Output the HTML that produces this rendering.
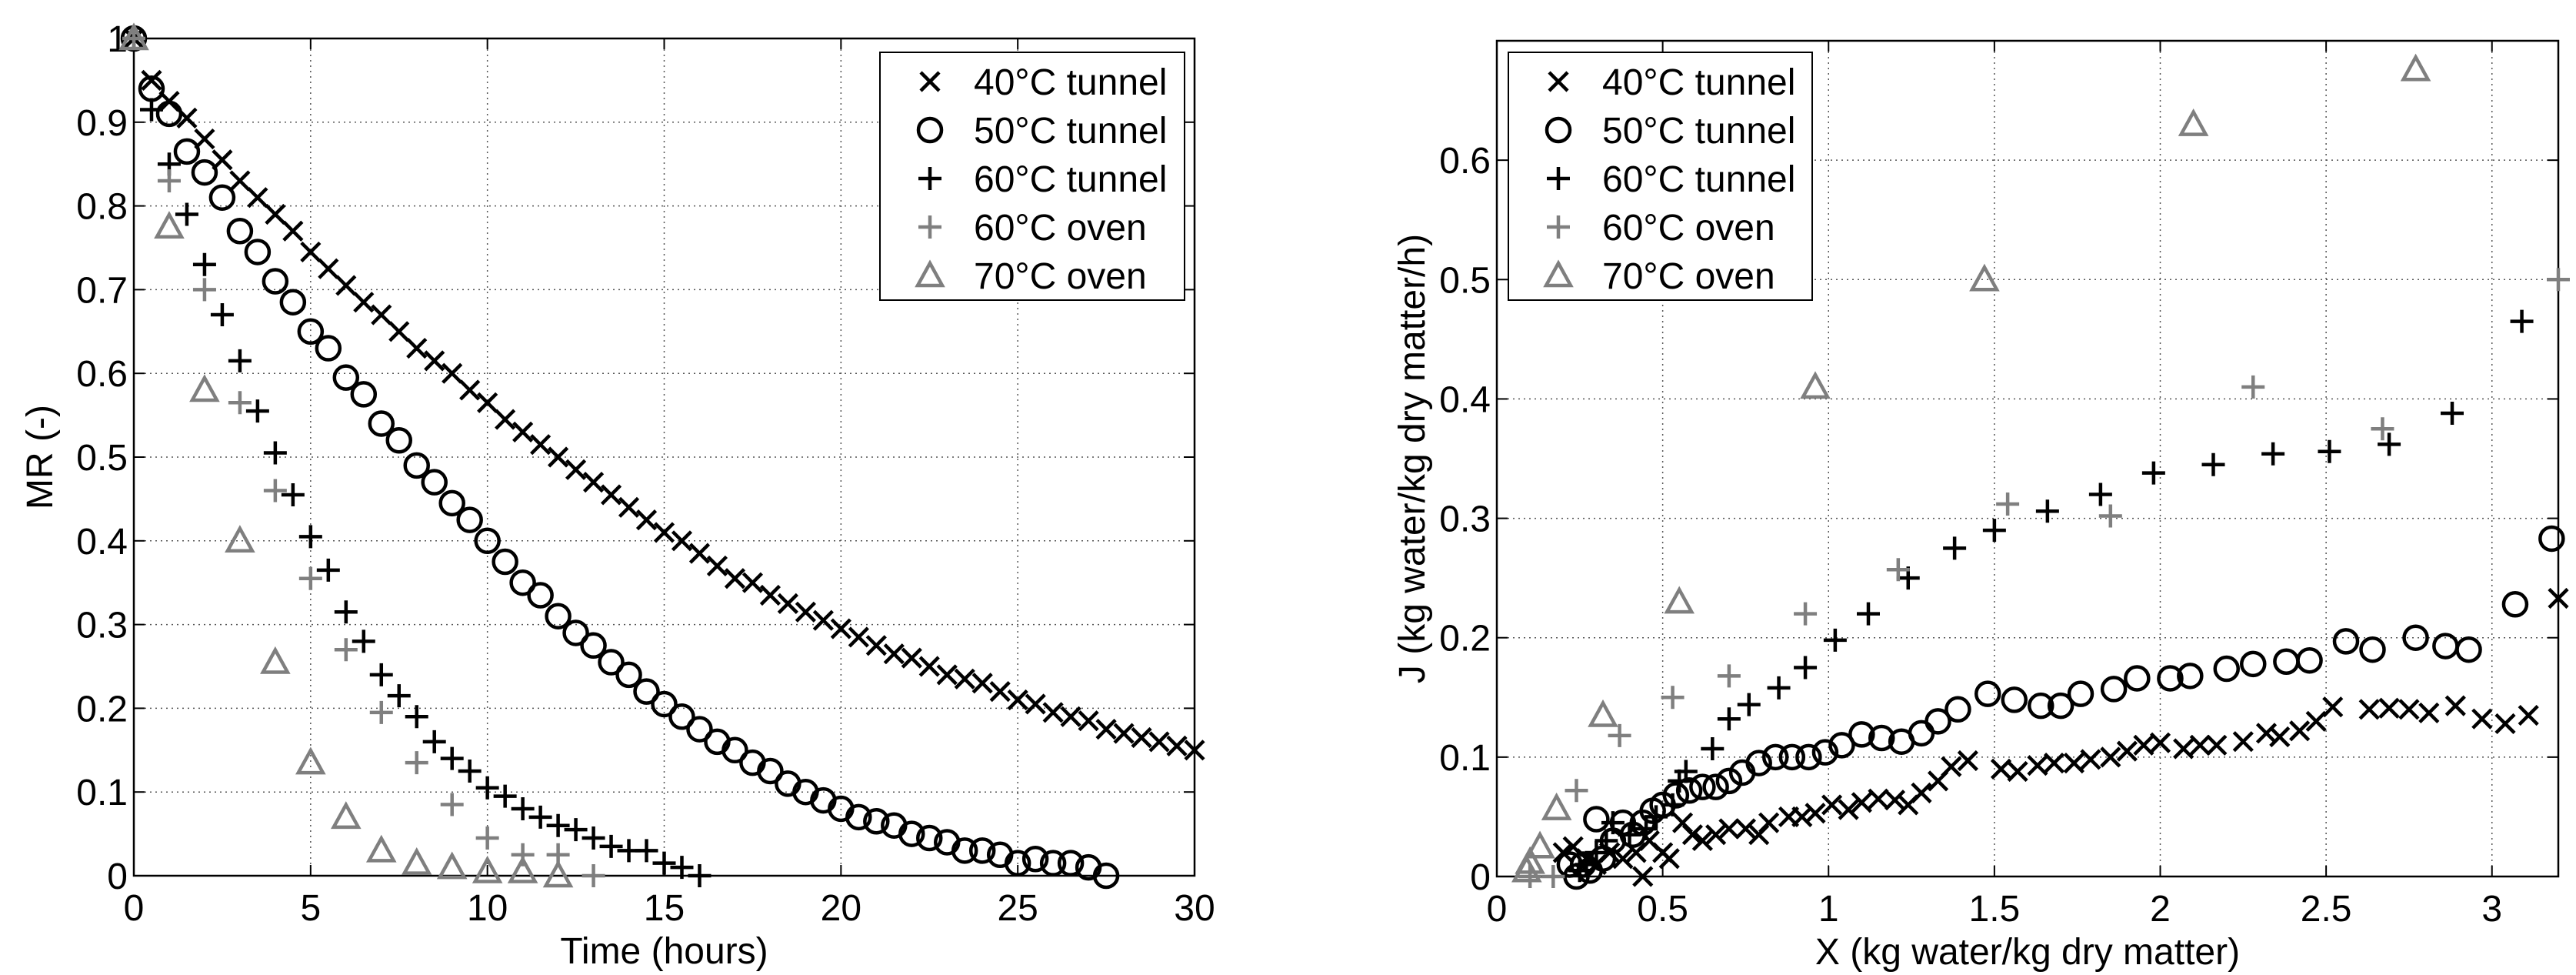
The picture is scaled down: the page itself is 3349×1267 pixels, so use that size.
<!DOCTYPE html>
<html><head><meta charset="utf-8"><style>
html,body{margin:0;padding:0;background:#fff}
svg{display:block}
text{font-family:"Liberation Sans",sans-serif;fill:#000}
</style></head><body>
<svg id="chart" width="3349" height="1267" xmlns="http://www.w3.org/2000/svg"></svg>
<script>
// ---- Left chart data (MR vs time) ----
const t40 = [0,0.5,1,1.5,2,2.5,3,3.5,4,4.5,5,5.5,6,6.5,7,7.5,8,8.5,9,9.5,10,10.5,11,11.5,12,12.5,13,13.5,14,14.5,15,15.5,16,16.5,17,17.5,18,18.5,19,19.5,20,20.5,21,21.5,22,22.5,23,23.5,24,24.5,25,25.5,26,26.5,27,27.5,28,28.5,29,29.5,30];
const mr40 = [1,0.95,0.925,0.905,0.88,0.855,0.83,0.81,0.79,0.77,0.745,0.725,0.705,0.685,0.67,0.65,0.63,0.615,0.6,0.58,0.565,0.545,0.53,0.515,0.5,0.485,0.47,0.455,0.44,0.425,0.41,0.4,0.385,0.37,0.355,0.35,0.335,0.325,0.315,0.305,0.295,0.285,0.275,0.265,0.26,0.25,0.24,0.235,0.23,0.22,0.21,0.205,0.195,0.19,0.185,0.175,0.17,0.165,0.16,0.155,0.15];
const t50 = [0,0.5,1,1.5,2,2.5,3,3.5,4,4.5,5,5.5,6,6.5,7,7.5,8,8.5,9,9.5,10,10.5,11,11.5,12,12.5,13,13.5,14,14.5,15,15.5,16,16.5,17,17.5,18,18.5,19,19.5,20,20.5,21,21.5,22,22.5,23,23.5,24,24.5,25,25.5,26,26.5,27,27.5];
const mr50 = [1,0.94,0.91,0.865,0.84,0.81,0.77,0.745,0.71,0.685,0.65,0.63,0.595,0.575,0.54,0.52,0.49,0.47,0.445,0.425,0.4,0.375,0.35,0.335,0.31,0.29,0.275,0.255,0.24,0.22,0.205,0.19,0.175,0.16,0.15,0.135,0.125,0.11,0.1,0.09,0.08,0.07,0.065,0.06,0.05,0.045,0.04,0.03,0.03,0.025,0.015,0.02,0.015,0.015,0.01,0.0];
const t60 = [0,0.5,1,1.5,2,2.5,3,3.5,4,4.5,5,5.5,6,6.5,7,7.5,8,8.5,9,9.5,10,10.5,11,11.5,12,12.5,13,13.5,14,14.5,15,15.5,16];
const mr60 = [1,0.915,0.85,0.79,0.73,0.67,0.615,0.555,0.505,0.455,0.405,0.365,0.315,0.28,0.24,0.215,0.19,0.16,0.14,0.125,0.105,0.095,0.08,0.07,0.06,0.055,0.045,0.035,0.03,0.03,0.015,0.01,0];
const t60o = [0,1,2,3,4,5,6,7,8,9,10,11,12,13];
const mr60o = [1,0.83,0.70,0.565,0.46,0.355,0.27,0.195,0.135,0.085,0.045,0.025,0.025,0.0];
const t70o = [0,1,2,3,4,5,6,7,8,9,10,11,12];
const mr70o = [1,0.775,0.58,0.40,0.255,0.135,0.07,0.03,0.015,0.01,0.005,0.005,0.0];
const xTicksL = [0,5,10,15,20,25,30];
const yTicksL = [0,0.1,0.2,0.3,0.4,0.5,0.6,0.7,0.8,0.9,1];

// ---- Right chart data (J vs X) ----
const x40 = [3.2,3.11,3.04,2.97,2.89,2.81,2.75,2.69,2.63,2.52,2.47,2.42,2.36,2.32,2.25,2.17,2.12,2.07,2.0,1.95,1.90,1.85,1.79,1.74,1.68,1.63,1.57,1.52,1.42,1.37,1.33,1.28,1.24,1.20,1.15,1.10,1.06,1.01,0.96,0.92,0.88,0.82,0.79,0.75,0.70,0.66,0.62,0.59,0.56,0.52,0.50,0.46,0.44,0.42,0.38,0.34,0.30,0.27,0.23,0.20];
const j40 = [0.233,0.135,0.128,0.132,0.143,0.137,0.14,0.141,0.14,0.142,0.13,0.122,0.117,0.12,0.113,0.11,0.11,0.107,0.112,0.11,0.105,0.1,0.098,0.095,0.095,0.093,0.088,0.09,0.097,0.092,0.08,0.07,0.06,0.064,0.065,0.062,0.056,0.06,0.053,0.05,0.05,0.045,0.035,0.04,0.04,0.035,0.03,0.035,0.045,0.015,0.02,0.03,0.0,0.02,0.015,0.02,0.01,0.015,0.025,0.02];
const x50 = [3.18,3.07,2.93,2.86,2.77,2.64,2.56,2.45,2.38,2.28,2.20,2.09,2.03,1.93,1.86,1.76,1.70,1.64,1.56,1.48,1.39,1.33,1.28,1.22,1.16,1.10,1.04,0.99,0.94,0.89,0.84,0.79,0.74,0.70,0.66,0.62,0.58,0.54,0.50,0.47,0.44,0.41,0.38,0.35,0.32,0.30,0.28,0.26,0.24,0.22];
const j50 = [0.283,0.228,0.19,0.193,0.2,0.19,0.197,0.181,0.18,0.178,0.174,0.168,0.166,0.166,0.157,0.153,0.143,0.143,0.148,0.153,0.14,0.13,0.12,0.113,0.116,0.119,0.11,0.104,0.1,0.1,0.1,0.095,0.087,0.08,0.075,0.075,0.072,0.068,0.06,0.055,0.045,0.035,0.045,0.03,0.015,0.048,0.005,0.01,0.0,0.01];
const x60 = [3.09,2.88,2.69,2.51,2.34,2.16,1.98,1.82,1.66,1.50,1.38,1.24,1.12,1.02,0.93,0.85,0.76,0.70,0.65,0.57,0.55,0.53,0.48,0.45,0.40,0.35,0.33,0.30,0.27,0.25];
const j60 = [0.465,0.388,0.362,0.356,0.354,0.345,0.338,0.32,0.306,0.29,0.275,0.25,0.22,0.198,0.175,0.158,0.144,0.132,0.107,0.088,0.08,0.06,0.05,0.04,0.035,0.045,0.03,0.02,0.01,0.005];
const x60o = [3.2,2.67,2.28,1.85,1.54,1.21,0.93,0.70,0.53,0.37,0.24,0.17,0.10];
const j60o = [0.5,0.375,0.41,0.302,0.312,0.257,0.22,0.168,0.15,0.118,0.072,0.0,0.0];
const x70o = [2.77,2.10,1.47,0.96,0.55,0.32,0.18,0.13,0.10,0.09];
const j70o = [0.676,0.63,0.5,0.41,0.23,0.135,0.057,0.025,0.012,0.005];
const xTicksR = [0,0.5,1,1.5,2,2.5,3];
const yTicksR = [0,0.1,0.2,0.3,0.4,0.5,0.6];
const xTickLabelsR = ["0","0.5","1","1.5","2","2.5","3"];
const legendLabels = ["40°C tunnel","50°C tunnel","60°C tunnel","60°C oven","70°C oven"];

const NS = "http://www.w3.org/2000/svg";
const svg = document.getElementById('chart');
const FS = 48;
function el(tag, attrs, parent){
  const e = document.createElementNS(NS, tag);
  for (const k in attrs) e.setAttribute(k, attrs[k]);
  (parent||svg).appendChild(e);
  return e;
}
const GRAY = "#7f7f7f";
function marker(g, type, x, y, color){
  let m;
  if (type==='x'){
    m = el('path',{d:`M${x-12},${y-12}L${x+12},${y+12}M${x-12},${y+12}L${x+12},${y-12}`,stroke:color,'stroke-width':4.5,fill:'none'},g);
  } else if (type==='o'){
    m = el('circle',{cx:x,cy:y,r:15,stroke:color,'stroke-width':4.5,fill:'none'},g);
  } else if (type==='+'){
    m = el('path',{d:`M${x-15},${y}L${x+15},${y}M${x},${y-15}L${x},${y+15}`,stroke:color,'stroke-width':4.5,fill:'none'},g);
  } else {
    m = el('path',{d:`M${x},${y-16}L${x+16},${y+13}L${x-16},${y+13}Z`,stroke:color,'stroke-width':4.5,fill:'none'},g);
  }
  return m;
}
function drawAxes(name, L, R, T, B, xmin, xmax, ymin, ymax, xt, xtl, yt, xlabel, ylabel, ylabelX){
  const sx = v => L + (v-xmin)/(xmax-xmin)*(R-L);
  const sy = v => B - (v-ymin)/(ymax-ymin)*(B-T);
  const g = el('g',{});
  
  
  const grid = el('g',{},g);
  
  
  xt.forEach((v,i)=>{
    const x = sx(v);
    if (v!==xmin && v!==xmax) el('line',{x1:x,y1:T,x2:x,y2:B,stroke:'#555','stroke-width':1.5,'stroke-dasharray':'2,5'},grid);
    el('line',{x1:x,y1:B,x2:x,y2:B-14,stroke:'#000','stroke-width':2},g);
    el('line',{x1:x,y1:T,x2:x,y2:T+14,stroke:'#000','stroke-width':2},g);
    const tx = el('text',{x:x,y:B+58,'font-size':FS,'text-anchor':'middle'},g);
    tx.textContent = xtl[i];
    
    
  });
  yt.forEach(v=>{
    const y = sy(v);
    if (v!==ymin && v!==ymax) el('line',{x1:L,y1:y,x2:R,y2:y,stroke:'#555','stroke-width':1.5,'stroke-dasharray':'2,5'},grid);
    el('line',{x1:L,y1:y,x2:L+14,y2:y,stroke:'#000','stroke-width':2},g);
    el('line',{x1:R,y1:y,x2:R-14,y2:y,stroke:'#000','stroke-width':2},g);
    const ty = el('text',{x:L-8,y:y+17,'font-size':FS,'text-anchor':'end'},g);
    ty.textContent = String(v);
    
    
  });
  el('rect',{x:L,y:T,width:R-L,height:B-T,fill:'none',stroke:'#000','stroke-width':2.5},g);
  const xl = el('text',{x:(L+R)/2,y:B+114,'font-size':FS,'text-anchor':'middle'},g);
  xl.textContent = xlabel;
  
  
  const cy = (T+B)/2;
  const yl = el('text',{x:ylabelX,y:cy,'font-size':FS,'text-anchor':'middle',transform:`rotate(-90 ${ylabelX} ${cy})`},g);
  yl.textContent = ylabel;
  
  
  return {sx, sy, g};
}
function series(ax, name, xs, ys, type, color){
  const g = el('g',{},ax.g);
  
  
  xs.forEach((v,i)=>{
    const m = marker(g, type, ax.sx(v), ax.sy(ys[i]), color);
    
    
  });
}
function legend(parent, x, y, w, h){
  const g = el('g',{},parent);
  
  
  el('rect',{x:x,y:y,width:w,height:h,fill:'#fff',stroke:'#000','stroke-width':2},g);
  const types = ['x','o','+','+','^'];
  const cols = ['#000','#000','#000',GRAY,GRAY];
  legendLabels.forEach((lab,i)=>{
    const cy = y+38+i*63;
    const e = el('g',{},g);
    
    
    marker(e, types[i], x+65, cy, cols[i]);
    const t = el('text',{x:x+122,y:cy+17,'font-size':FS},e);
    t.textContent = lab;
  });
}

const axL = drawAxes('mr-chart',174,1553,50,1138,0,30,0,1,xTicksL,xTicksL.map(String),yTicksL,'Time (hours)','MR (-)',68);
series(axL,'series-40c-tunnel',t40,mr40,'x','#000');
series(axL,'series-50c-tunnel',t50,mr50,'o','#000');
series(axL,'series-60c-tunnel',t60,mr60,'+','#000');
series(axL,'series-60c-oven',t60o,mr60o,'+',GRAY);
series(axL,'series-70c-oven',t70o,mr70o,'^',GRAY);
legend(axL.g,1144,68,396,322);

const axR = drawAxes('j-chart',1946,3326,53,1139,0,3.2,0,0.7,xTicksR,xTickLabelsR,yTicksR,'X (kg water/kg dry matter)','J (kg water/kg dry matter/h)',1852);
series(axR,'series-40c-tunnel',x40,j40,'x','#000');
series(axR,'series-50c-tunnel',x50,j50,'o','#000');
series(axR,'series-60c-tunnel',x60,j60,'+','#000');
series(axR,'series-60c-oven',x60o,j60o,'+',GRAY);
series(axR,'series-70c-oven',x70o,j70o,'^',GRAY);
legend(axR.g,1961,68,395,322);
</script>
</body></html>
